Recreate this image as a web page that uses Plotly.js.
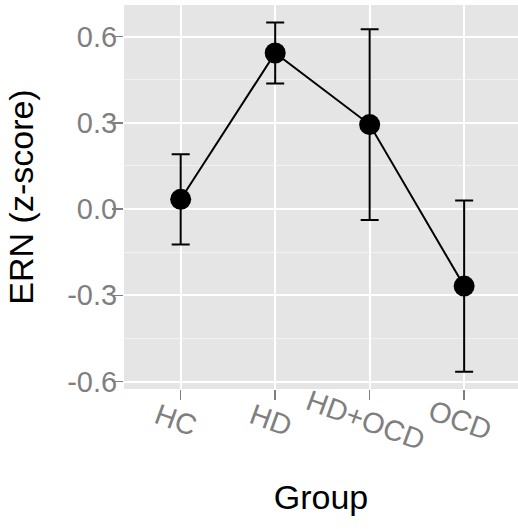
<!DOCTYPE html>
<html>
<head>
<meta charset="utf-8">
<script src="https://cdn.plot.ly/plotly-3.0.1.min.js"></script>
<style>html,body{margin:0;padding:0;background:#fff;}#chart{width:518px;height:529px;}</style>
</head>
<body>
<div id="chart"></div>
<script>
const groups = ['HC', 'HD', 'HD+OCD', 'OCD'];
const ernMean = [0.034, 0.543, 0.294, -0.268];
const ernError = [0.157, 0.106, 0.332, 0.298];
const yTickValues = [-0.6, -0.3, 0.0, 0.3, 0.6];
const yTickLabels = ['-0.6', '-0.3', '0.0', '0.3', '0.6'];

const FONT = 'Liberation Sans, Arial, sans-serif';
const xIdx = groups.map((g, i) => i);

const trace = {
  type: 'scatter',
  mode: 'lines+markers',
  x: xIdx,
  y: ernMean,
  line: {color: '#000000', width: 2},
  marker: {color: '#000000', size: 21},
  error_y: {type: 'data', array: ernError, visible: true, color: '#000000', thickness: 2, width: 9},
  hoverinfo: 'skip'
};

const annotations = groups.map((g, i) => ({
  x: i, y: 0, xref: 'x', yref: 'paper',
  text: g, showarrow: false, textangle: 20,
  xanchor: 'center', yanchor: 'middle',
  xshift: -4.5, yshift: -31,
  font: {family: FONT, size: 29, color: '#7F7F7F'}
}));

const layout = {
  width: 518, height: 529,
  margin: {l: 124, r: 0, t: 5, b: 140, pad: 0},
  paper_bgcolor: '#FFFFFF',
  plot_bgcolor: '#E5E5E5',
  showlegend: false,
  font: {family: FONT},
  xaxis: {
    range: [-0.6, 3.57],
    tickvals: xIdx,
    showticklabels: false,
    ticks: 'outside', ticklen: 10, tickwidth: 1.5, tickcolor: '#7F7F7F',
    showgrid: true, gridcolor: '#FFFFFF', gridwidth: 2,
    zeroline: false, showline: false, fixedrange: true,
    title: {text: 'Group', font: {family: FONT, size: 34, color: '#000000'}, standoff: 86}
  },
  yaxis: {
    range: [-0.626, 0.71],
    tickvals: yTickValues, ticktext: yTickLabels,
    ticks: 'outside', ticklen: 11, tickwidth: 1.5, tickcolor: '#7F7F7F',
    tickfont: {family: FONT, size: 29, color: '#7F7F7F'},
    ticklabelstandoff: -11,
    showgrid: true, gridcolor: '#FFFFFF', gridwidth: 2,
    minor: {dtick: 0.15, tick0: 0, showgrid: true, gridcolor: '#F2F2F2', gridwidth: 1, ticks: ''},
    zeroline: false, showline: false, fixedrange: true,
    title: {text: 'ERN (z-score)', font: {family: FONT, size: 34, color: '#000000'}, standoff: 23}
  },
  annotations: annotations
};

Plotly.newPlot('chart', [trace], layout, {staticPlot: true, displayModeBar: false});
</script>
</body>
</html>
